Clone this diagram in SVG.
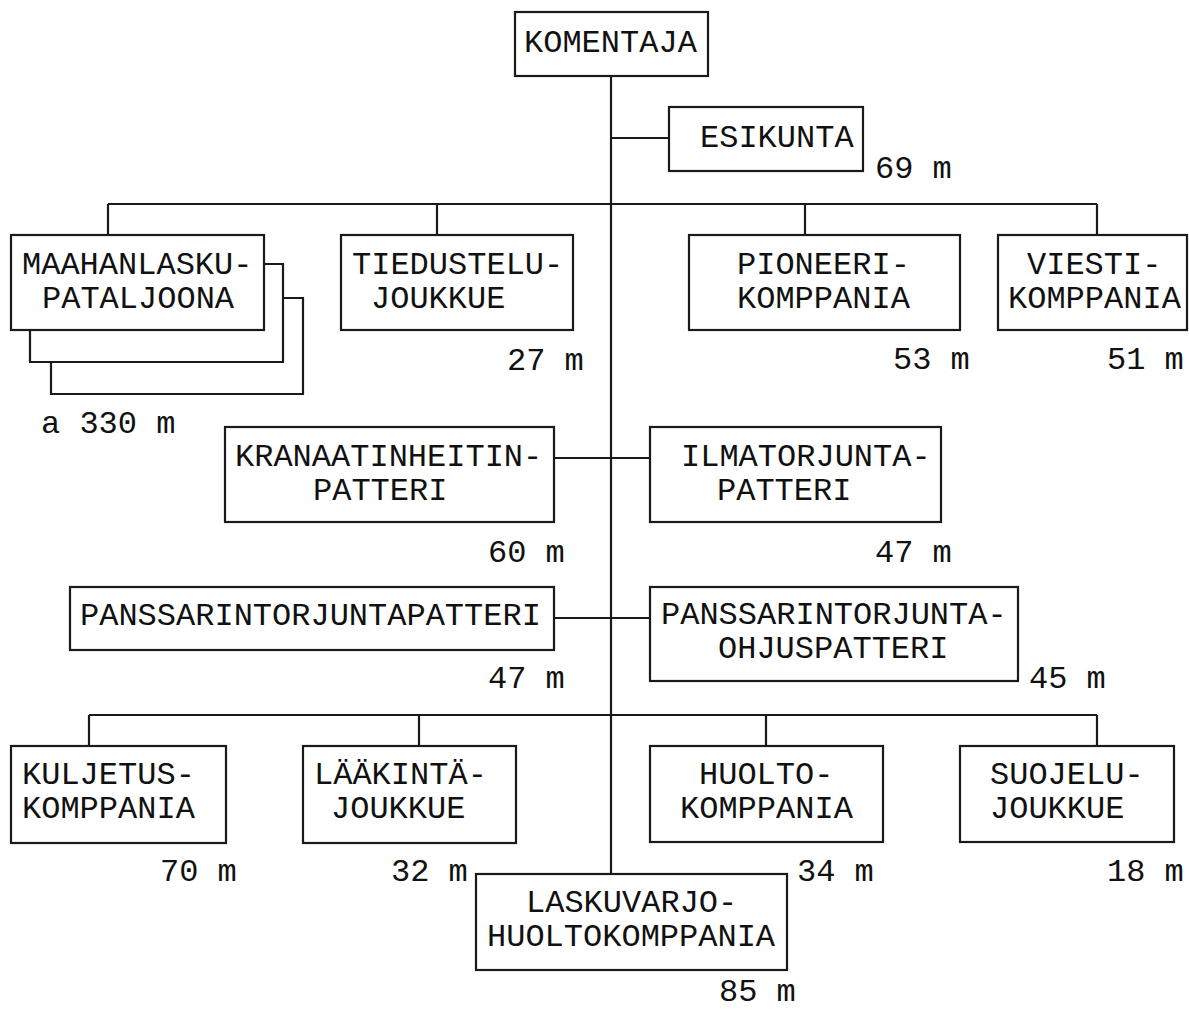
<svg xmlns="http://www.w3.org/2000/svg" width="1189" height="1010" viewBox="0 0 1189 1010">
<style>
.box{fill:#fff;stroke:#1a1a1a;stroke-width:2.2}
.ln{fill:none;stroke:#1a1a1a;stroke-width:2.2}
text{font-family:"Liberation Mono","DejaVu Sans Mono",monospace;font-size:32px;fill:#111}
</style>
<rect width="1189" height="1010" fill="#fff"/>
<g id="connectors" class="ln">
<path d="M611,76 V874"/>
<path d="M611,138 H669"/>
<path d="M108,204 H1097 M108,204 V235 M437,204 V235 M805,204 V235 M1097,204 V235"/>
<path d="M554,458 H650"/>
<path d="M554,618 H650"/>
<path d="M89,715 H1097 M89,715 V746 M419,715 V746 M766,715 V746 M1097,715 V746"/>
</g>
<g id="komentaja"><rect class="box" x="515" y="12" width="193" height="64"/><text x="524" y="52">KOMENTAJA</text></g>
<g id="esikunta"><rect class="box" x="669" y="107" width="194" height="64"/><text x="700" y="147">ESIKUNTA</text><text x="875" y="178">69 m</text></g>
<g id="maahanlasku">
<path class="ln" d="M283,298 H303 V394 H51 V362"/>
<path class="ln" d="M264,264 H283 V362 H30 V330"/>
<rect class="box" x="11" y="235" width="253" height="95"/>
<text x="22" y="274">MAAHANLASKU-</text><text x="42" y="308">PATALJOONA</text>
<text x="41" y="433">a 330 m</text></g>
<g id="tiedustelu"><rect class="box" x="341" y="235" width="232" height="95"/><text x="352" y="274">TIEDUSTELU-</text><text x="371" y="308">JOUKKUE</text><text x="507" y="370">27 m</text></g>
<g id="pioneeri"><rect class="box" x="689" y="235" width="271" height="95"/><text x="737" y="274">PIONEERI-</text><text x="737" y="308">KOMPPANIA</text><text x="893" y="369">53 m</text></g>
<g id="viesti"><rect class="box" x="998" y="235" width="189" height="95"/><text x="1027" y="274">VIESTI-</text><text x="1008" y="308">KOMPPANIA</text><text x="1107" y="369">51 m</text></g>
<g id="kranaatinheitin"><rect class="box" x="225" y="427" width="329" height="95"/><text x="235" y="466">KRANAATINHEITIN-</text><text x="313" y="500">PATTERI</text><text x="488" y="562">60 m</text></g>
<g id="ilmatorjunta"><rect class="box" x="650" y="427" width="291" height="95"/><text x="681" y="466">ILMATORJUNTA-</text><text x="717" y="500">PATTERI</text><text x="875" y="562">47 m</text></g>
<g id="panssarintorjunta"><rect class="box" x="70" y="587" width="484" height="63"/><text x="80" y="625">PANSSARINTORJUNTAPATTERI</text><text x="488" y="688">47 m</text></g>
<g id="ohjuspatteri"><rect class="box" x="650" y="587" width="368" height="94"/><text x="661" y="624">PANSSARINTORJUNTA-</text><text x="718" y="658">OHJUSPATTERI</text><text x="1029" y="688">45 m</text></g>
<g id="kuljetus"><rect class="box" x="11" y="746" width="215" height="97"/><text x="22" y="784">KULJETUS-</text><text x="22" y="818">KOMPPANIA</text><text x="160" y="881">70 m</text></g>
<g id="laakinta"><rect class="box" x="303" y="746" width="213" height="97"/><text x="314" y="784">LÄÄKINTÄ-</text><text x="331" y="818">JOUKKUE</text><text x="391" y="881">32 m</text></g>
<g id="huolto"><rect class="box" x="650" y="746" width="233" height="96"/><text x="699" y="784">HUOLTO-</text><text x="680" y="818">KOMPPANIA</text><text x="797" y="881">34 m</text></g>
<g id="suojelu"><rect class="box" x="960" y="746" width="214" height="96"/><text x="990" y="784">SUOJELU-</text><text x="990" y="818">JOUKKUE</text><text x="1107" y="881">18 m</text></g>
<g id="laskuvarjo"><rect class="box" x="476" y="874" width="311" height="96"/><text x="526" y="912">LASKUVARJO-</text><text x="487" y="946">HUOLTOKOMPPANIA</text><text x="719" y="1001">85 m</text></g>
</svg>
